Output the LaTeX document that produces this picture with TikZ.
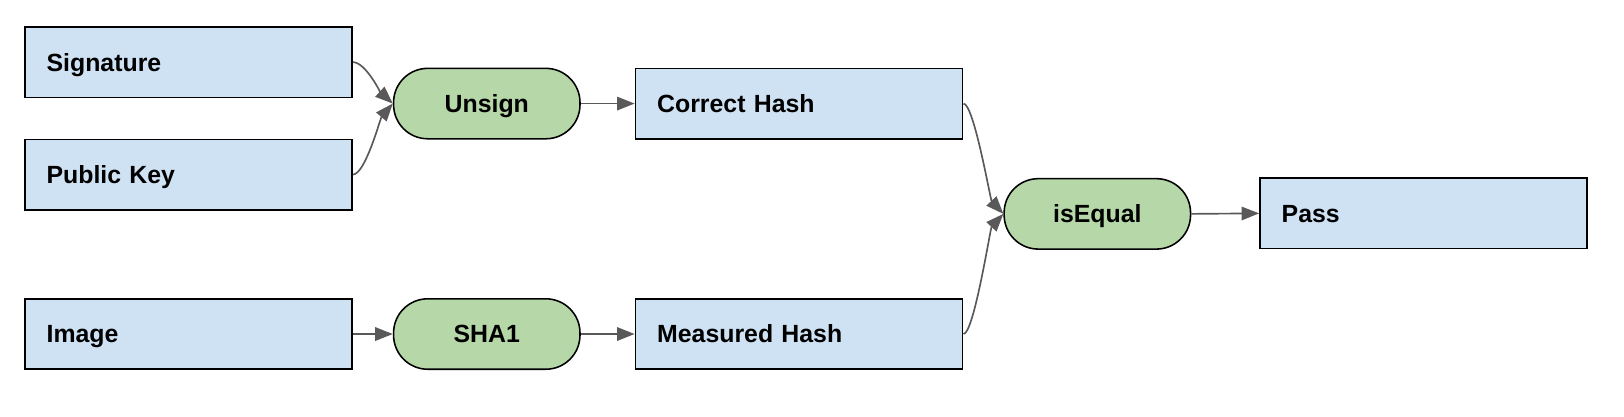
\documentclass[tikz,border=0pt]{standalone}
\usepackage{fontspec}
\setmainfont{Liberation Sans}
\usetikzlibrary{arrows.meta}
\definecolor{boxblue}{HTML}{CFE2F3}
\definecolor{pillgreen}{HTML}{B6D7A8}
\definecolor{arrowgray}{HTML}{595959}
\begin{document}
\begin{tikzpicture}[x=1pt,y=1pt,
  box/.style={draw=black, line width=1.5pt, fill=boxblue, rectangle,
    minimum width=316pt, minimum height=68pt, text width=274pt, inner xsep=21pt,
    text height=17.2pt, text depth=0pt,
    align=left, font=\fontsize{24}{28}\selectfont\bfseries, anchor=center},
  pill/.style={draw=black, line width=1.5pt, fill=pillgreen, rectangle, rounded corners=33pt,
    minimum width=180pt, minimum height=68pt, text height=17.2pt, text depth=0pt,
    font=\fontsize{24}{28}\selectfont\bfseries, anchor=center},
  conn/.style={draw=arrowgray, line width=1.6pt, -{Triangle[length=17pt,width=13pt]}}]
\useasboundingbox (0,0) rectangle (1568,-401.7);
\node[box]  (sig) at (182,-60)     {Signature};
\node[box]  (pub) at (182,-168.5)  {Public Key};
\node[box]  (img) at (182,-322.5)  {Image};
\node[pill] (uns) at (470,-100)    {Unsign};
\node[pill] (sha) at (470,-322.5)  {SHA1};
\node[box]  (cor) at (771.5,-100)  {Correct Hash};
\node[box]  (mea) at (771.5,-322.5) {Measured Hash};
\node[pill] (eq)  at (1059.5,-206.5) {isEqual};
\node[box]  (pas) at (1374.5,-206) {Pass};
\draw[conn] (sig.east) .. controls +(12,0) and +(-12,11) .. (uns.west);
\draw[conn] (pub.east) .. controls +(12,0) and +(-12,-14) .. (uns.west);
\draw[conn] (uns.east) -- (cor.west);
\draw[conn] (img.east) -- (sha.west);
\draw[conn] (sha.east) -- (mea.west);
\draw[conn] (cor.east) .. controls +(10,0) and +(-12.5,13.5) .. (eq.west);
\draw[conn] (mea.east) .. controls +(10,0) and +(-12.5,-13.5) .. (eq.west);
\draw[conn] (eq.east) -- (pas.west);
\end{tikzpicture}
\end{document}
